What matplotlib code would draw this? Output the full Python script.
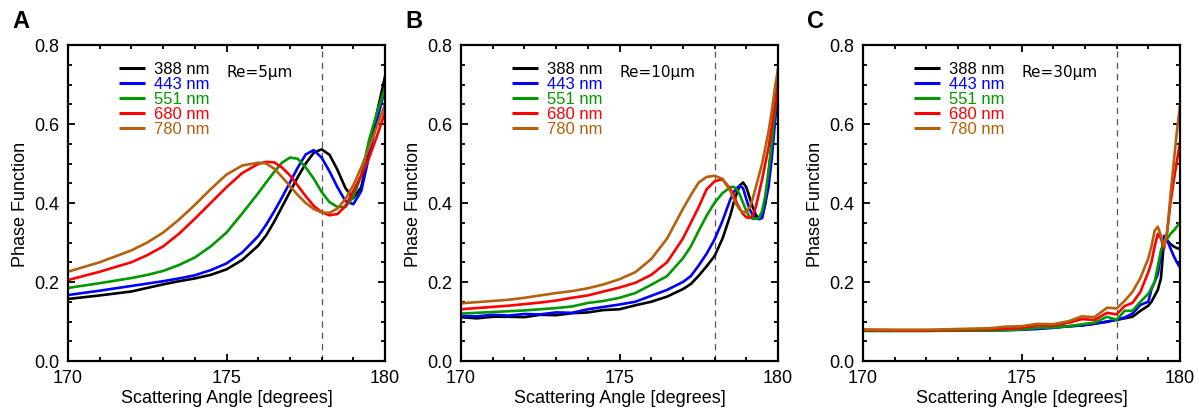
import matplotlib
matplotlib.use("Agg")
import matplotlib.pyplot as plt
from matplotlib.ticker import MultipleLocator

plt.rcParams['font.family'] = ['Liberation Sans', 'DejaVu Sans']

wavelengths = ["388 nm", "443 nm", "551 nm", "680 nm", "780 nm"]
colors = ["#000000", "#0000ff", "#009900", "#ff0000", "#b5600c"]
panel_labels = ["A", "B", "C"]
re_labels = ["Re=5\u03bcm", "Re=10\u03bcm", "Re=30\u03bcm"]

# ---------------- Panel A (Re = 5 um) ----------------
angle_a = [170, 171, 172, 172.5, 173, 173.5, 174, 174.5, 175, 175.5, 176, 176.25, 176.5,
           176.75, 177, 177.25, 177.5, 177.75, 178, 178.25, 178.5, 178.75, 179,
           179.25, 179.5, 179.75, 180]
a_388 = [.157, .166, .176, .185, .194, .202, .209, .218, .232, .256, .292, .318, .352,
         .390, .428, .466, .500, .527, .536, .522, .484, .438, .412,
         .440, .530, .630, .720]
a_443 = [.167, .178, .190, .196, .202, .209, .217, .230, .247, .275, .316, .345, .378,
         .414, .452, .490, .523, .534, .515, .480, .440, .405, .397,
         .430, .520, .610, .690]
a_551 = [.185, .197, .210, .218, .228, .243, .262, .290, .325, .374, .425, .452, .478,
         .502, .515, .512, .490, .462, .428, .402, .390, .390, .415,
         .470, .560, .630, .690]
a_680 = [.205, .226, .250, .268, .290, .322, .360, .400, .440, .476, .499, .504, .503,
         .490, .470, .444, .417, .393, .377, .369, .372, .392, .430,
         .470, .515, .570, .630]
a_780 = [.226, .250, .280, .300, .325, .358, .395, .435, .472, .495, .502, .500, .487,
         .466, .443, .420, .400, .385, .376, .375, .386, .410, .445,
         .490, .540, .595, .650]

# ---------------- Panel B (Re = 10 um) ----------------
angle_b = [170, 170.5, 171, 171.5, 172, 172.5, 173, 173.5, 174, 174.5, 175, 175.5,
           176, 176.5, 177, 177.25, 177.5, 177.75, 178, 178.25, 178.5, 178.6, 178.7,
           178.8, 178.9, 179, 179.1, 179.2, 179.3, 179.4, 179.5, 179.6, 179.7, 179.8,
           179.9, 180]
b_388 = [.111, .108, .112, .112, .111, .117, .116, .121, .123, .129, .131, .141,
         .150, .163, .182, .195, .216, .240, .266, .310, .370, .400, .425,
         .445, .452, .440, .415, .390, .370, .360, .365, .400, .470, .550,
         .630, .705]
b_443 = [.114, .113, .117, .115, .119, .118, .123, .122, .131, .137, .143, .150,
         .165, .180, .200, .215, .242, .272, .308, .355, .410, .427, .438,
         .444, .437, .410, .385, .370, .362, .359, .362, .400, .440, .510,
         .600, .689]
b_551 = [.120, .122, .124, .126, .128, .131, .134, .138, .147, .152, .160, .172,
         .193, .215, .260, .290, .330, .368, .401, .425, .440, .441, .435,
         .420, .400, .380, .365, .360, .360, .362, .380, .420, .480, .550,
         .630, .714]
b_680 = [.131, .134, .137, .140, .144, .148, .153, .160, .166, .176, .186, .198,
         .218, .250, .310, .350, .390, .435, .455, .460, .435, .420, .400,
         .385, .372, .364, .362, .368, .390, .425, .460, .500, .540, .590,
         .645, .700]
b_780 = [.146, .149, .152, .155, .160, .166, .172, .177, .184, .194, .207, .225,
         .258, .310, .385, .420, .452, .466, .469, .461, .430, .410, .395,
         .383, .377, .377, .388, .410, .440, .470, .500, .540, .580, .630,
         .690, .740]

# ---------------- Panel C (Re = 30 um) ----------------
angle_c = [170, 171, 172, 173, 174, 174.5, 175, 175.5, 176, 176.5, 176.9, 177.3,
           177.7, 178, 178.25, 178.5, 178.75, 179, 179.1, 179.2, 179.3, 179.4,
           179.5, 179.6, 179.7, 179.8, 179.9, 180]
c_388 = [.078, .078, .078, .078, .078, .079, .081, .083, .085, .088, .090, .094,
         .100, .104, .108, .112, .127, .140, .150, .165, .180, .210,
         .310, .305, .296, .290, .286, .283]
c_443 = [.077, .077, .077, .077, .078, .078, .079, .081, .084, .088, .090, .095,
         .099, .105, .110, .120, .142, .150, .182, .200, .220, .270,
         .317, .305, .285, .266, .250, .237]
c_551 = [.076, .076, .076, .077, .077, .078, .080, .084, .085, .088, .093, .097,
         .112, .104, .127, .127, .150, .170, .185, .200, .240, .280,
         .300, .310, .322, .330, .340, .352]
c_680 = [.078, .077, .077, .079, .080, .082, .084, .090, .090, .097, .106, .104,
         .122, .118, .139, .147, .175, .225, .250, .290, .322, .310,
         .285, .330, .400, .455, .505, .553]
c_780 = [.080, .079, .079, .081, .083, .087, .088, .094, .093, .101, .113, .111,
         .135, .133, .152, .175, .210, .260, .290, .330, .340, .317,
         .290, .330, .420, .500, .580, .646]

panels = [
    (angle_a, [a_388, a_443, a_551, a_680, a_780]),
    (angle_b, [b_388, b_443, b_551, b_680, b_780]),
    (angle_c, [c_388, c_443, c_551, c_680, c_780]),
]

W, H = 1199, 410
fig = plt.figure(figsize=(W / 100, H / 100), dpi=100)

lefts = [68, 461, 863]
ax_w = 317
ax_top, ax_bot = 46, 362

for i, (angles, series) in enumerate(panels):
    ax = fig.add_axes([lefts[i] / W, (H - ax_bot) / H, ax_w / W, (ax_bot - ax_top) / H])
    ax.axvline(178, color="#555555", lw=0.9, ls=(0, (5, 4)), zorder=1)
    for vals, col in zip(series, colors):
        ax.plot(angles, vals, color=col, lw=1.9, zorder=2, solid_joinstyle="round")
    ax.set_xlim(170, 180)
    ax.set_ylim(0, 0.8)
    ax.xaxis.set_major_locator(MultipleLocator(5))
    ax.xaxis.set_minor_locator(MultipleLocator(1))
    ax.yaxis.set_major_locator(MultipleLocator(0.2))
    ax.yaxis.set_minor_locator(MultipleLocator(0.05))
    ax.yaxis.set_major_formatter(plt.FuncFormatter(lambda v, p: f"{v:.1f}"))
    ax.tick_params(which="both", direction="in", top=True, right=True,
                   labelsize=13, width=1.3)
    ax.tick_params(which="major", length=5, pad=6)
    ax.tick_params(which="minor", length=3)
    for sp in ax.spines.values():
        sp.set_linewidth(1.6)
    ax.set_xlabel("Scattering Angle [degrees]", fontsize=13, labelpad=2)
    ax.set_ylabel("Phase Function", fontsize=13, labelpad=4)

    # legend drawn manually
    for k, (lab, col) in enumerate(zip(wavelengths, colors)):
        yy = 0.927 - k * 0.0475
        ax.plot([0.161, 0.243], [yy, yy], transform=ax.transAxes, color=col, lw=2.2,
                solid_capstyle="butt")
        ax.text(0.271, yy, lab, transform=ax.transAxes, color=col, fontsize=12,
                va="center", ha="left")
    ax.text(0.50, 0.915, re_labels[i], transform=ax.transAxes, fontsize=11,
            va="center", ha="left", family="DejaVu Sans")

    fig.text((lefts[i] - 56) / W, 1 - 22 / H, panel_labels[i], fontsize=17,
             fontweight="bold", va="center", ha="left")

fig.savefig("out.png", dpi=100)
